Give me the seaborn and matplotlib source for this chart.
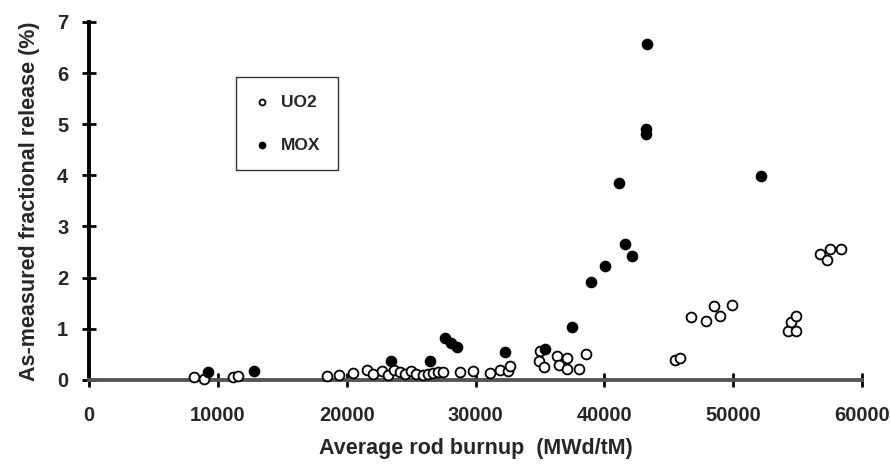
import pandas as pd
import seaborn as sns
import matplotlib.pyplot as plt

sns.set_theme(style="white")
plt.rcParams['font.family'] = ['Liberation Sans', 'DejaVu Sans']

# Data
uo2_burnup = [8160, 8940, 11160, 11550, 18480, 19400, 20500, 21600, 22000, 22700,
              23200, 23700, 24100, 24500, 25000, 25400, 25900, 26300, 26700, 27100,
              27500, 28800, 29800, 31100, 31900, 32500, 32700, 35000, 34900, 35300,
              36300, 36500, 37100, 37100, 38000, 38600, 45500, 45900, 46750, 47900,
              48500, 49000, 49900, 54250, 54900, 54500, 54900, 56750, 57300, 57500,
              58400]
uo2_release = [0.06, 0.02, 0.06, 0.07, 0.07, 0.10, 0.13, 0.19, 0.12, 0.17,
               0.09, 0.19, 0.15, 0.12, 0.17, 0.11, 0.10, 0.12, 0.14, 0.15,
               0.15, 0.16, 0.18, 0.13, 0.20, 0.18, 0.28, 0.57, 0.36, 0.25,
               0.47, 0.29, 0.42, 0.21, 0.21, 0.51, 0.39, 0.42, 1.23, 1.16,
               1.44, 1.25, 1.46, 0.96, 0.96, 1.14, 1.25, 2.46, 2.35, 2.55,
               2.55]

mox_burnup = [9200, 12800, 23450, 26460, 27600, 28100, 28550, 32300, 35400, 37500,
              38950, 40050, 41150, 41600, 42150, 43200, 43250, 43300, 52130]
mox_release = [0.15, 0.17, 0.37, 0.37, 0.82, 0.72, 0.65, 0.55, 0.60, 1.03,
               1.92, 2.23, 3.85, 2.66, 2.42, 4.91, 4.81, 6.57, 3.98]

x_ticks = [0, 10000, 20000, 30000, 40000, 50000, 60000]
y_ticks = [0, 1, 2, 3, 4, 5, 6, 7]

uo2 = pd.DataFrame({'burnup': uo2_burnup, 'release': uo2_release})
mox = pd.DataFrame({'burnup': mox_burnup, 'release': mox_release})

fig = plt.figure(figsize=(8.91, 4.65), dpi=100)
ax = fig.add_axes([0.1, 0.183, 0.8675, 0.77])

sns.scatterplot(data=uo2, x='burnup', y='release', ax=ax, label='UO2',
                marker='o', s=50, facecolor='white', edgecolor='black',
                linewidth=1.3, clip_on=False, zorder=3)
sns.scatterplot(data=mox, x='burnup', y='release', ax=ax, label='MOX',
                marker='o', s=50, color='black', edgecolor='black',
                linewidth=1.3, clip_on=False, zorder=4)

ax.set_xlim(0, 60000)
ax.set_ylim(0, 7)
ax.set_xticks(x_ticks)
ax.set_yticks(y_ticks)
ax.set_xticklabels([str(t) for t in x_ticks], weight='bold', fontsize=14.5)
ax.set_yticklabels([str(t) for t in y_ticks], weight='bold', fontsize=14.5)

ax.set_xlabel('Average rod burnup  (MWd/tM)', weight='bold',
              fontsize=15.5, labelpad=9)
ax.set_ylabel('As-measured fractional release (%)', weight='bold',
              fontsize=15.5, labelpad=12)

sns.despine(ax=ax)
ax.spines['left'].set_color('black')
ax.spines['left'].set_linewidth(2.8)
ax.spines['bottom'].set_color('#555555')
ax.spines['bottom'].set_linewidth(2.8)
ax.tick_params(axis='both', direction='inout', length=10, width=2,
               color='black', bottom=True, left=True)
ax.tick_params(axis='x', pad=14)
ax.tick_params(axis='y', pad=10)

leg = ax.legend(loc='upper left', bbox_to_anchor=(0.19, 0.845), frameon=True,
                fancybox=False, edgecolor='black', fontsize=12.5,
                markerscale=0.6, labelspacing=1.6, borderpad=1.0,
                handletextpad=0.6, handlelength=1.0, borderaxespad=0)
leg.get_frame().set_linewidth(1.0)
for t in leg.get_texts():
    t.set_fontweight('bold')

plt.savefig('out.png', dpi=100)
